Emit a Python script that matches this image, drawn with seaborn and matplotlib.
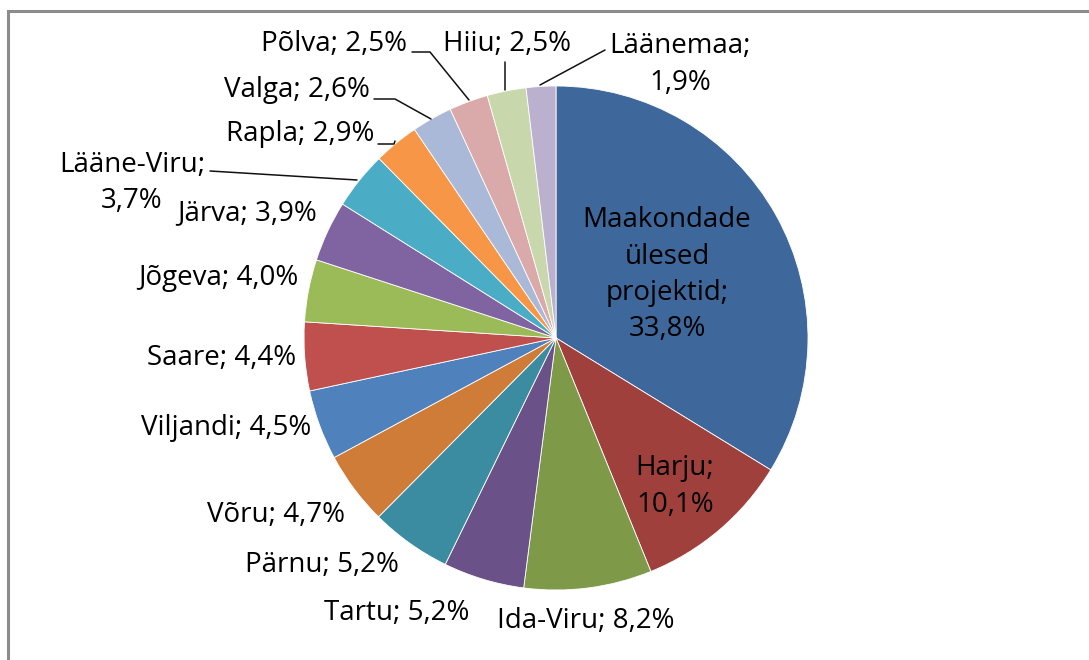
import matplotlib
matplotlib.use("Agg")
import matplotlib.pyplot as plt
import seaborn as sns

# shares of the funding by county (percent), clockwise from 12 o'clock
labels = ["Maakondade\nülesed\nprojektid", "Harju", "Ida-Viru", "Tartu", "Pärnu",
          "Võru", "Viljandi", "Saare", "Jõgeva", "Järva", "Lääne-Viru", "Rapla",
          "Valga", "Põlva", "Hiiu", "Läänemaa"]
values = [33.8, 10.1, 8.2, 5.2, 5.2, 4.7, 4.5, 4.4, 4.0, 3.9, 3.7, 2.9, 2.6, 2.5, 2.5, 1.9]
colors = ["#3E689B", "#A0403D", "#7E9A48", "#6A5188", "#3B8CA1", "#CE7C38",
          "#4F81BD", "#C0504D", "#9BBB59", "#8064A2", "#4BACC6", "#F79646",
          "#A9B9D7", "#D9AAA9", "#C9D7AC", "#BBB0CD"]

sns.set_theme(style="white")
plt.rcParams["font.family"] = ["Open Sans", "DejaVu Sans"]

W, H = 1089, 660
fig = plt.figure(figsize=(W / 100, H / 100), dpi=100)
ax = fig.add_axes([0, 0, 1, 1])


def Y(y):
    # image row -> data y
    return H - y


ax.pie(values, colors=colors, startangle=90, counterclock=False,
       center=(556, Y(338)), radius=252,
       wedgeprops=dict(edgecolor="white", linewidth=0.6))
ax.set_xlim(0, W)
ax.set_ylim(0, H)
ax.set_aspect("equal")
ax.axis("off")


def fmt(v):
    return f"{v:.1f}".replace(".", ",") + "%"


# label centre x and baseline of first line (image pixels)
label_x = [667, 675, 586, 397, 322, 276, 226, 222, 218, 247, 132, 300, 297, 334, 507, 680]
label_base = [227, 475, 628, 620, 572, 522, 435, 365, 285, 220, 172, 141, 97, 51, 51, 53]
two_line = {"Harju", "Lääne-Viru", "Läänemaa"}
line_step = 36.5

fs = 20
for lab, v, x, b in zip(labels, values, label_x, label_base):
    if "\n" in lab or lab in two_line:
        txt = lab + ";\n" + fmt(v)
    else:
        txt = lab + "; " + fmt(v)
    for i, line in enumerate(txt.split("\n")):
        ax.text(x, Y(b + i * line_step), line, ha="center", va="baseline",
                fontsize=fs, color="black")

# leader lines for the small slices
leaders = [
    [(540, 85), (605, 50)],
    [(505, 90), (505, 62)],
    [(469, 100), (430, 52), (412, 52)],
    [(431, 119), (395, 99), (374, 99)],
    [(395, 141), (394, 144), (378, 144)],
    [(357, 180), (210, 171)],
]
for pts in leaders:
    ax.plot([p[0] for p in pts], [Y(p[1]) for p in pts], color="#111111", lw=1.1)

# chart area frame
ax.plot([7.5, 7.5, W + 5], [Y(H + 5), Y(10.5), Y(10.5)], color="#8C8C8C", lw=2.2,
        solid_joinstyle="miter")

fig.savefig("out.png", dpi=100, facecolor="white")
